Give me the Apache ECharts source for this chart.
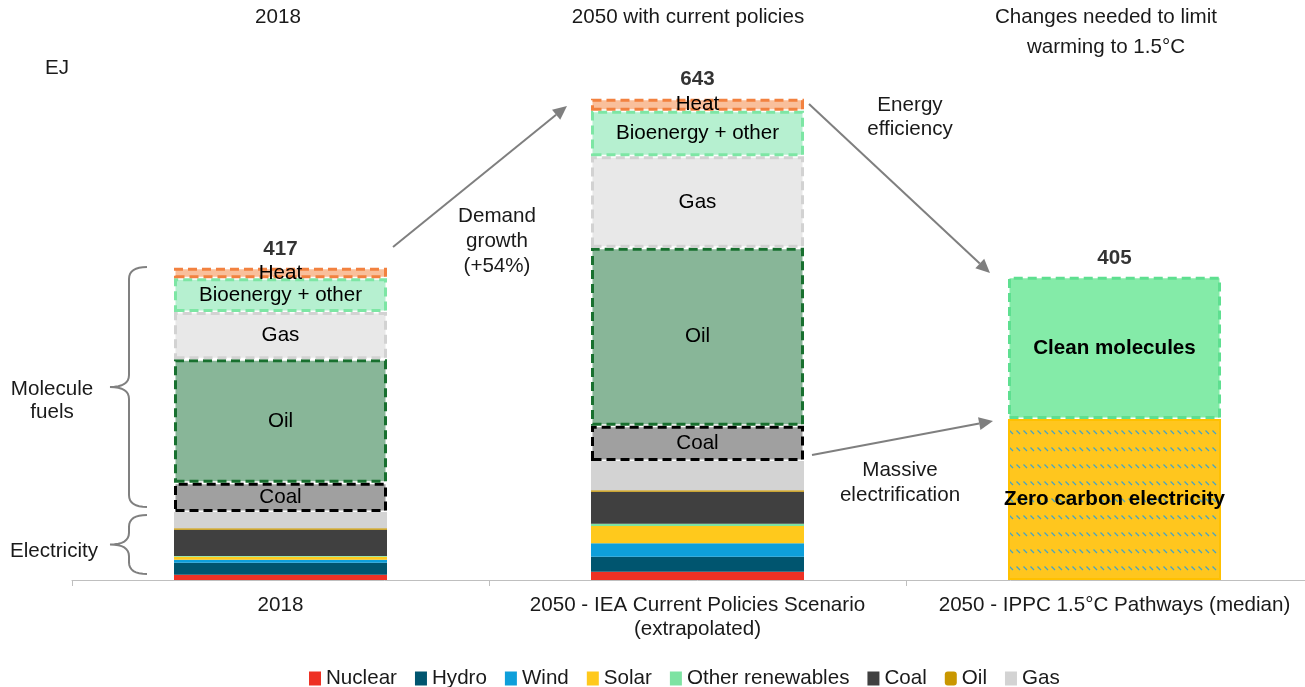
<!DOCTYPE html>
<html>
<head>
<meta charset="utf-8">
<script src="https://cdn.jsdelivr.net/npm/echarts@6/dist/echarts.min.js"></script>
<style>
  html, body { margin: 0; padding: 0; background: #ffffff; overflow: hidden; }
  #chart { width: 1323px; height: 687px; }
</style>
</head>
<body>
<div id="chart"></div>
<script>
// Final energy demand, EJ
const categories = [
  '2018',
  '2050 - IEA Current Policies Scenario\n(extrapolated)',
  '2050 - IPPC 1.5°C Pathways (median)'
];

// Electricity
const nuclear         = [7, 11, null];
const hydro           = [16, 20, null];
const wind            = [4, 18, null];
const solar           = [4, 23, null];
const otherRenewables = [1, 3, null];
const coalPower       = [35, 43, null];
const oilPower        = [2, 2, null];
const gasPower        = [22, 39, null];
const zeroCarbonElectricity = [null, null, 215];

// Molecule fuels
const coalFuel   = [39, 47, null];
const oilFuel    = [165, 238, null];
const gasFuel    = [63, 122, null];
const bioenergy  = [45, 61, null];
const heat       = [14, 16, null];
const cleanMolecules = [null, null, 190];

const legendNames = ['Nuclear', 'Hydro', 'Wind', 'Solar', 'Other renewables', 'Coal', 'Oil', 'Gas'];

const allStacks = [nuclear, hydro, wind, solar, otherRenewables, coalPower, oilPower, gasPower,
  zeroCarbonElectricity, coalFuel, oilFuel, gasFuel, bioenergy, heat, cleanMolecules];
const totals = categories.map((_, i) => allStacks.reduce((s, arr) => s + (arr[i] || 0), 0));

const FONT = '"Liberation Sans", Arial, sans-serif';
const FS = 20.6;
const TEXT = '#1a1a1a';
const BAR_W = 213;

function elec(name, data, color) {
  return {
    name, type: 'bar', stack: 'energy', data, barWidth: BAR_W,
    itemStyle: { color },
    emphasis: { disabled: true }
  };
}

function fuel(name, text, data, fill, border, bold) {
  return {
    name, type: 'bar', stack: 'energy', data, barWidth: BAR_W,
    itemStyle: { color: fill, borderColor: border, borderWidth: 3, borderType: [9, 5] },
    label: {
      show: true, position: 'inside', formatter: text,
      fontSize: FS, fontFamily: FONT, color: '#000',
      fontWeight: bold ? 'bold' : 'normal'
    },
    emphasis: { disabled: true }
  };
}

// Diagonal hatch used for the zero carbon electricity block
function hatch() {
  const c = document.createElement('canvas');
  c.width = 7; c.height = 17;
  const g = c.getContext('2d');
  g.fillStyle = '#FFC61E';
  g.fillRect(0, 0, 7, 17);
  g.strokeStyle = '#45A3C6';
  g.lineWidth = 1.3;
  g.beginPath();
  g.moveTo(1.5, 5.5);
  g.lineTo(5, 9);
  g.stroke();
  return c;
}

function arrow(x1, y1, x2, y2) {
  const dx = x2 - x1, dy = y2 - y1, L = Math.hypot(dx, dy);
  const ux = dx / L, uy = dy / L, hl = 14, hw = 6.5;
  const bx = x2 - ux * hl, by = y2 - uy * hl;
  return [
    { type: 'line', shape: { x1, y1, x2: bx, y2: by }, style: { stroke: '#7f7f7f', lineWidth: 2 } },
    { type: 'polygon', shape: { points: [[x2, y2], [bx - uy * hw, by + ux * hw], [bx + uy * hw, by - ux * hw]] },
      style: { fill: '#7f7f7f' } }
  ];
}

function quad(p0, c, p1, n) {
  const pts = [];
  for (let k = 1; k <= n; k++) {
    const t = k / n;
    pts.push([
      (1 - t) * (1 - t) * p0[0] + 2 * (1 - t) * t * c[0] + t * t * p1[0],
      (1 - t) * (1 - t) * p0[1] + 2 * (1 - t) * t * c[1] + t * t * p1[1]
    ]);
  }
  return pts;
}

function brace(xTip, xSpine, xMid, yTop, yBot) {
  const ym = (yTop + yBot) / 2;
  const r = Math.min(12, (yBot - yTop) / 5);
  let pts = [[xTip, yTop]];
  pts = pts.concat(quad([xTip, yTop], [xSpine, yTop], [xSpine, yTop + r], 8));
  pts.push([xSpine, ym - r]);
  pts = pts.concat(quad([xSpine, ym - r], [xSpine, ym], [xMid, ym], 8));
  pts = pts.concat(quad([xMid, ym], [xSpine, ym], [xSpine, ym + r], 8));
  pts.push([xSpine, yBot - r]);
  pts = pts.concat(quad([xSpine, yBot - r], [xSpine, yBot], [xTip, yBot], 8));
  return { type: 'polyline', shape: { points: pts }, style: { stroke: '#808080', lineWidth: 2, fill: null } };
}

function txt(x, y, text, opts) {
  return {
    type: 'text', x, y,
    style: Object.assign({
      text, fontSize: FS, fontFamily: FONT, fill: TEXT,
      align: 'center', verticalAlign: 'middle', lineHeight: 24
    }, opts || {})
  };
}

const chart = echarts.init(document.getElementById('chart'), null, { renderer: 'canvas' });

const series = [
  elec('Nuclear', nuclear, '#EE3124'),
  elec('Hydro', hydro, '#00556F'),
  elec('Wind', wind, '#0E9FDA'),
  elec('Solar', solar, '#FFC91C'),
  elec('Other renewables', otherRenewables, '#7DE3A2'),
  elec('Coal', coalPower, '#404040'),
  elec('Oil', oilPower, '#C99700'),
  elec('Gas', gasPower, '#D3D3D3'),
  {
    name: 'Zero carbon electricity', type: 'bar', stack: 'energy', data: zeroCarbonElectricity, barWidth: BAR_W,
    itemStyle: { color: { image: hatch(), repeat: 'repeat' }, borderColor: '#FFC000', borderWidth: 2 },
    label: { show: true, position: 'inside', formatter: 'Zero carbon electricity',
      fontSize: FS, fontWeight: 'bold', fontFamily: FONT, color: '#000' },
    emphasis: { disabled: true }
  },
  fuel('Coal fuel', 'Coal', coalFuel, '#A0A0A0', '#000000'),
  fuel('Oil fuel', 'Oil', oilFuel, '#88B698', '#18702F'),
  fuel('Gas fuel', 'Gas', gasFuel, '#E8E8E8', '#D2D2D2'),
  fuel('Bioenergy + other', 'Bioenergy + other', bioenergy, '#B6F0D0', '#7DE6A4'),
  fuel('Heat', 'Heat', heat, '#F9BF9B', '#F2813F'),
  fuel('Clean molecules', 'Clean molecules', cleanMolecules, '#84EBA8', '#5EDF90', true),
  {
    name: 'Total', type: 'scatter', data: totals, symbolSize: 1,
    itemStyle: { color: 'rgba(0,0,0,0)' },
    label: { show: true, position: 'top', distance: 8, formatter: p => String(p.value),
      fontSize: FS, fontWeight: 'bold', fontFamily: FONT, color: '#000' },
    emphasis: { disabled: true }, z: 5
  }
];

const graphics = [
  txt(278, 17, '2018'),
  txt(688, 17, '2050 with current policies'),
  txt(1106, 32, 'Changes needed to limit\nwarming to 1.5°C', { lineHeight: 30 }),
  txt(57, 68, 'EJ'),
  txt(52, 401, 'Molecule\nfuels', { lineHeight: 23 }),
  txt(54, 551, 'Electricity'),
  txt(497, 241, 'Demand\ngrowth\n(+54%)', { lineHeight: 25 }),
  txt(910, 117, 'Energy\nefficiency', { lineHeight: 24 }),
  txt(900, 483, 'Massive\nelectrification', { lineHeight: 25 }),
  brace(147, 129, 110, 267, 507),
  brace(147, 129, 110, 515, 574)
].concat(arrow(393, 247, 567, 106), arrow(809, 104, 990, 273), arrow(812, 455, 993, 421));

chart.setOption({
  animation: false,
  backgroundColor: '#ffffff',
  textStyle: { fontFamily: FONT },
  grid: { left: 72, right: 0, top: 56, bottom: 107, containLabel: false },
  xAxis: {
    type: 'category', data: categories,
    axisLine: { lineStyle: { color: '#BFBFBF', width: 1 } },
    axisTick: { show: true, length: 6, lineStyle: { color: '#BFBFBF' } },
    axisLabel: { interval: 0, fontSize: FS, color: TEXT, lineHeight: 24, margin: 13, fontFamily: FONT }
  },
  yAxis: {
    type: 'value', min: 0, max: 700, show: false, splitLine: { show: false }
  },
  legend: {
    data: legendNames.map(n => n === 'Oil' ? { name: n, icon: 'roundRect' } : { name: n }),
    left: 304, top: 663, icon: 'rect', itemWidth: 12, itemHeight: 14, itemGap: 18,
    selectedMode: false,
    textStyle: { fontSize: FS, color: TEXT, fontFamily: FONT }
  },
  tooltip: { show: false },
  series,
  graphic: { elements: graphics }
});
</script>
</body>
</html>
